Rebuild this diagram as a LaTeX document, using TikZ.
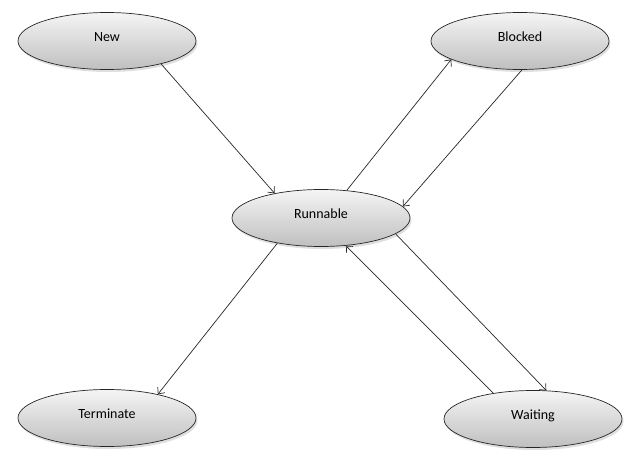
\documentclass[tikz,border=0pt]{standalone}
\usepackage{fontspec}
\setmainfont{Carlito}
\usetikzlibrary{shapes.geometric,arrows.meta,shadows}
\begin{document}
\begin{tikzpicture}[x=1pt,y=-1pt,
  state/.style={ellipse, draw=black!85, line width=0.7pt,
    minimum width=178pt, minimum height=57pt, inner sep=0pt,
    text height=0pt, text depth=0pt,
    top color=gray!8, bottom color=gray!50,
    font=\fontsize{14}{16}\selectfont,
    drop shadow={opacity=0.25, shadow xshift=1.5pt, shadow yshift=-2.5pt}},
  conn/.style={draw=black!85, line width=0.7pt, -{Straight Barb[length=5pt,width=9pt]}}]
\useasboundingbox (0,0) rectangle (633,466);
\node[state] (new) at (107,41) {New};
\node[state] (blocked) at (520,41) {Blocked};
\node[state] (run) at (321,218) {Runnable};
\node[state] (term) at (107,418) {Terminate};
\node[state] (wait) at (533,419) {Waiting};
\draw[conn] (new.-23) -- (run.152);
\draw[conn] (run.47) -- (blocked.195);
\draw[conn] (blocked.-86) -- (run.8);
\draw[conn] (run.210) -- (term.25);
\draw[conn] (run.-12) -- (wait.65);
\draw[conn] (wait.147) -- (run.-48);
\end{tikzpicture}
\end{document}
